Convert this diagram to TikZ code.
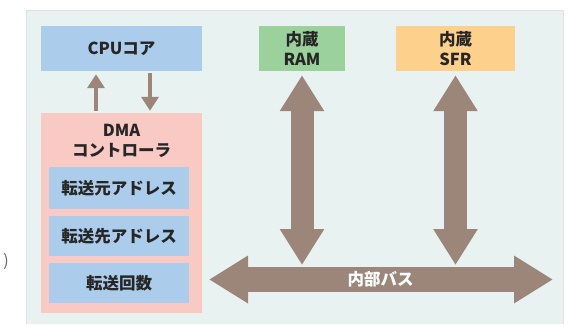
\documentclass[tikz,border=0pt]{standalone}
\usepackage{fontspec}
\setmainfont{Noto Sans CJK JP}
\usetikzlibrary{arrows.meta,calc}
\definecolor{panelc}{HTML}{E8F2F1}
\definecolor{panelline}{HTML}{DCE5E4}
\definecolor{bluec}{HTML}{ABCDEB}
\definecolor{pinkc}{HTML}{F9C9C4}
\definecolor{greenc}{HTML}{9BD19B}
\definecolor{orangec}{HTML}{FDD08C}
\definecolor{arrowc}{HTML}{9C8679}
\definecolor{textc}{HTML}{262626}
\definecolor{grayt}{HTML}{666666}
\tikzset{
  box/.style={draw=none, inner sep=0pt, align=center, text=textc,
    font=\fontsize{16.5}{20}\selectfont\bfseries},
  smallarrow/.style={draw=arrowc, line width=3.7pt, -{Triangle[width=17pt,length=14pt]}},
  bigarrow/.style={draw=arrowc, line width=23pt,
    {Triangle[width=42pt,length=36pt]}-{Triangle[width=42pt,length=36pt]}},
  busarrow/.style={draw=arrowc, line width=25pt,
    {Triangle[width=45pt,length=39pt]}-{Triangle[width=45pt,length=39pt]}},
}
\begin{document}
\begin{tikzpicture}[x=1pt,y=-1pt]
\useasboundingbox (0,0) rectangle (569,324);
\fill[panelc] (26,10) rectangle (563,324);
\draw[panelline, line width=0.8pt] (26,324) -- (26,10) -- (563,10) -- (563,324);
\node[text=grayt, font=\fontsize{16}{18}\selectfont, anchor=east, inner sep=0pt] (frag) at (9,262) {)};
% boxes
\node[box, fill=bluec, minimum width=161pt, minimum height=45pt] (cpu) at (121.5,48.5) {CPUコア};
\node[box, fill=pinkc, minimum width=161pt, minimum height=200pt] (dma) at (121.5,213) {};
\node[box] (dmat) at (121.5,141) {DMA\\コントローラ};
\node[box, fill=bluec, minimum width=140pt, minimum height=42pt] (src) at (119,188) {転送元アドレス};
\node[box, fill=bluec, minimum width=140pt, minimum height=40pt] (dst) at (119,236) {転送先アドレス};
\node[box, fill=bluec, minimum width=140pt, minimum height=40pt] (cnt) at (119,283) {転送回数};
\node[box, fill=greenc, minimum width=86pt, minimum height=45pt] (ram) at (302,48.5) {内蔵\\RAM};
\node[box, fill=orangec, minimum width=119pt, minimum height=45pt] (sfr) at (455.5,48.5) {内蔵\\SFR};
% small arrows
\draw[smallarrow] ([xshift=-25.5pt,yshift=2pt]dma.north) -- ([xshift=-25.5pt,yshift=-3pt]cpu.south);
\draw[smallarrow] ([xshift=28.5pt,yshift=-2pt]cpu.south) -- ([xshift=28.5pt,yshift=2pt]dma.north);
% bus
\coordinate (busL) at (209,279.5);
\coordinate (busR) at (553,279.5);
\coordinate (busTop) at (380,265);
\draw[busarrow] (busL) -- (busR);
\node[box, text=white] (bus) at (380.5,279.5) {内部バス};
\draw[bigarrow] ([yshift=-4pt]ram.south) -- (ram.south |- busTop);
\draw[bigarrow] ([yshift=-4pt]sfr.south) -- (sfr.south |- busTop);
\end{tikzpicture}
\end{document}
